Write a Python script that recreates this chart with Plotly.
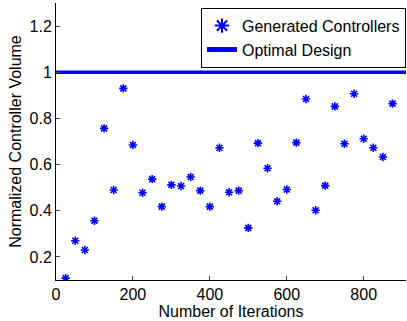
import plotly.graph_objects as go

iterations = [25, 50, 75, 100, 125, 150, 175, 200, 225, 250, 275, 300, 325, 350, 375,
              400, 425, 450, 475, 500, 525, 550, 575, 600, 625, 650, 675, 700, 725, 750,
              775, 800, 825, 850, 875]
volumes = [0.108, 0.27, 0.23, 0.357, 0.757, 0.49, 0.93, 0.685, 0.478, 0.537, 0.418, 0.512,
           0.507, 0.546, 0.487, 0.418, 0.673, 0.48, 0.487, 0.326, 0.693, 0.584, 0.441, 0.492,
           0.695, 0.884, 0.402, 0.509, 0.852, 0.69, 0.907, 0.712, 0.673, 0.633, 0.864]
optimal_x = [0, 910]
optimal_y = [1, 1]

x_ticks = [0, 200, 400, 600, 800]
y_ticks = [0.2, 0.4, 0.6, 0.8, 1, 1.2]

font = "Liberation Sans, Arial, sans-serif"

fig = go.Figure()
fig.add_trace(go.Scatter(x=iterations, y=volumes, mode="markers", name="Generated Controllers",
                         marker=dict(symbol="asterisk-open", size=7, color="#0000ff",
                                     line=dict(color="#0000ff", width=1.6))))
fig.add_trace(go.Scatter(x=optimal_x, y=optimal_y, mode="lines", name="Optimal Design",
                         line=dict(color="#0000ff", width=3.5)))

fig.update_layout(
    width=407, height=321,
    margin=dict(l=56, r=1, t=3, b=41),
    paper_bgcolor="white", plot_bgcolor="white",
    font=dict(family=font, size=16, color="black"),
    showlegend=True,
    legend=dict(x=1, y=0.983, xanchor="right", yanchor="top",
                bordercolor="black", borderwidth=1, bgcolor="white",
                font=dict(size=16), tracegroupgap=0, itemwidth=30,
                itemsizing="constant"),
    xaxis=dict(range=[0, 910], tickvals=x_ticks, ticks="inside", ticklen=4,
               showline=True, linecolor="black", linewidth=1, mirror=False,
               showgrid=False, zeroline=False,
               title=dict(text="Number of Iterations", standoff=0, font=dict(size=16))),
    yaxis=dict(range=[0.1, 1.3], tickvals=y_ticks, ticks="inside", ticklen=4,
               showline=True, linecolor="black", linewidth=1, mirror=False,
               showgrid=False, zeroline=False,
               title=dict(text="Normalized Controller Volume", standoff=3, font=dict(size=16))),
)

fig.write_html("out.html", config={"displayModeBar": False},
               post_script="document.body.style.margin='0';document.body.style.padding='0';document.body.style.overflow='hidden';")
